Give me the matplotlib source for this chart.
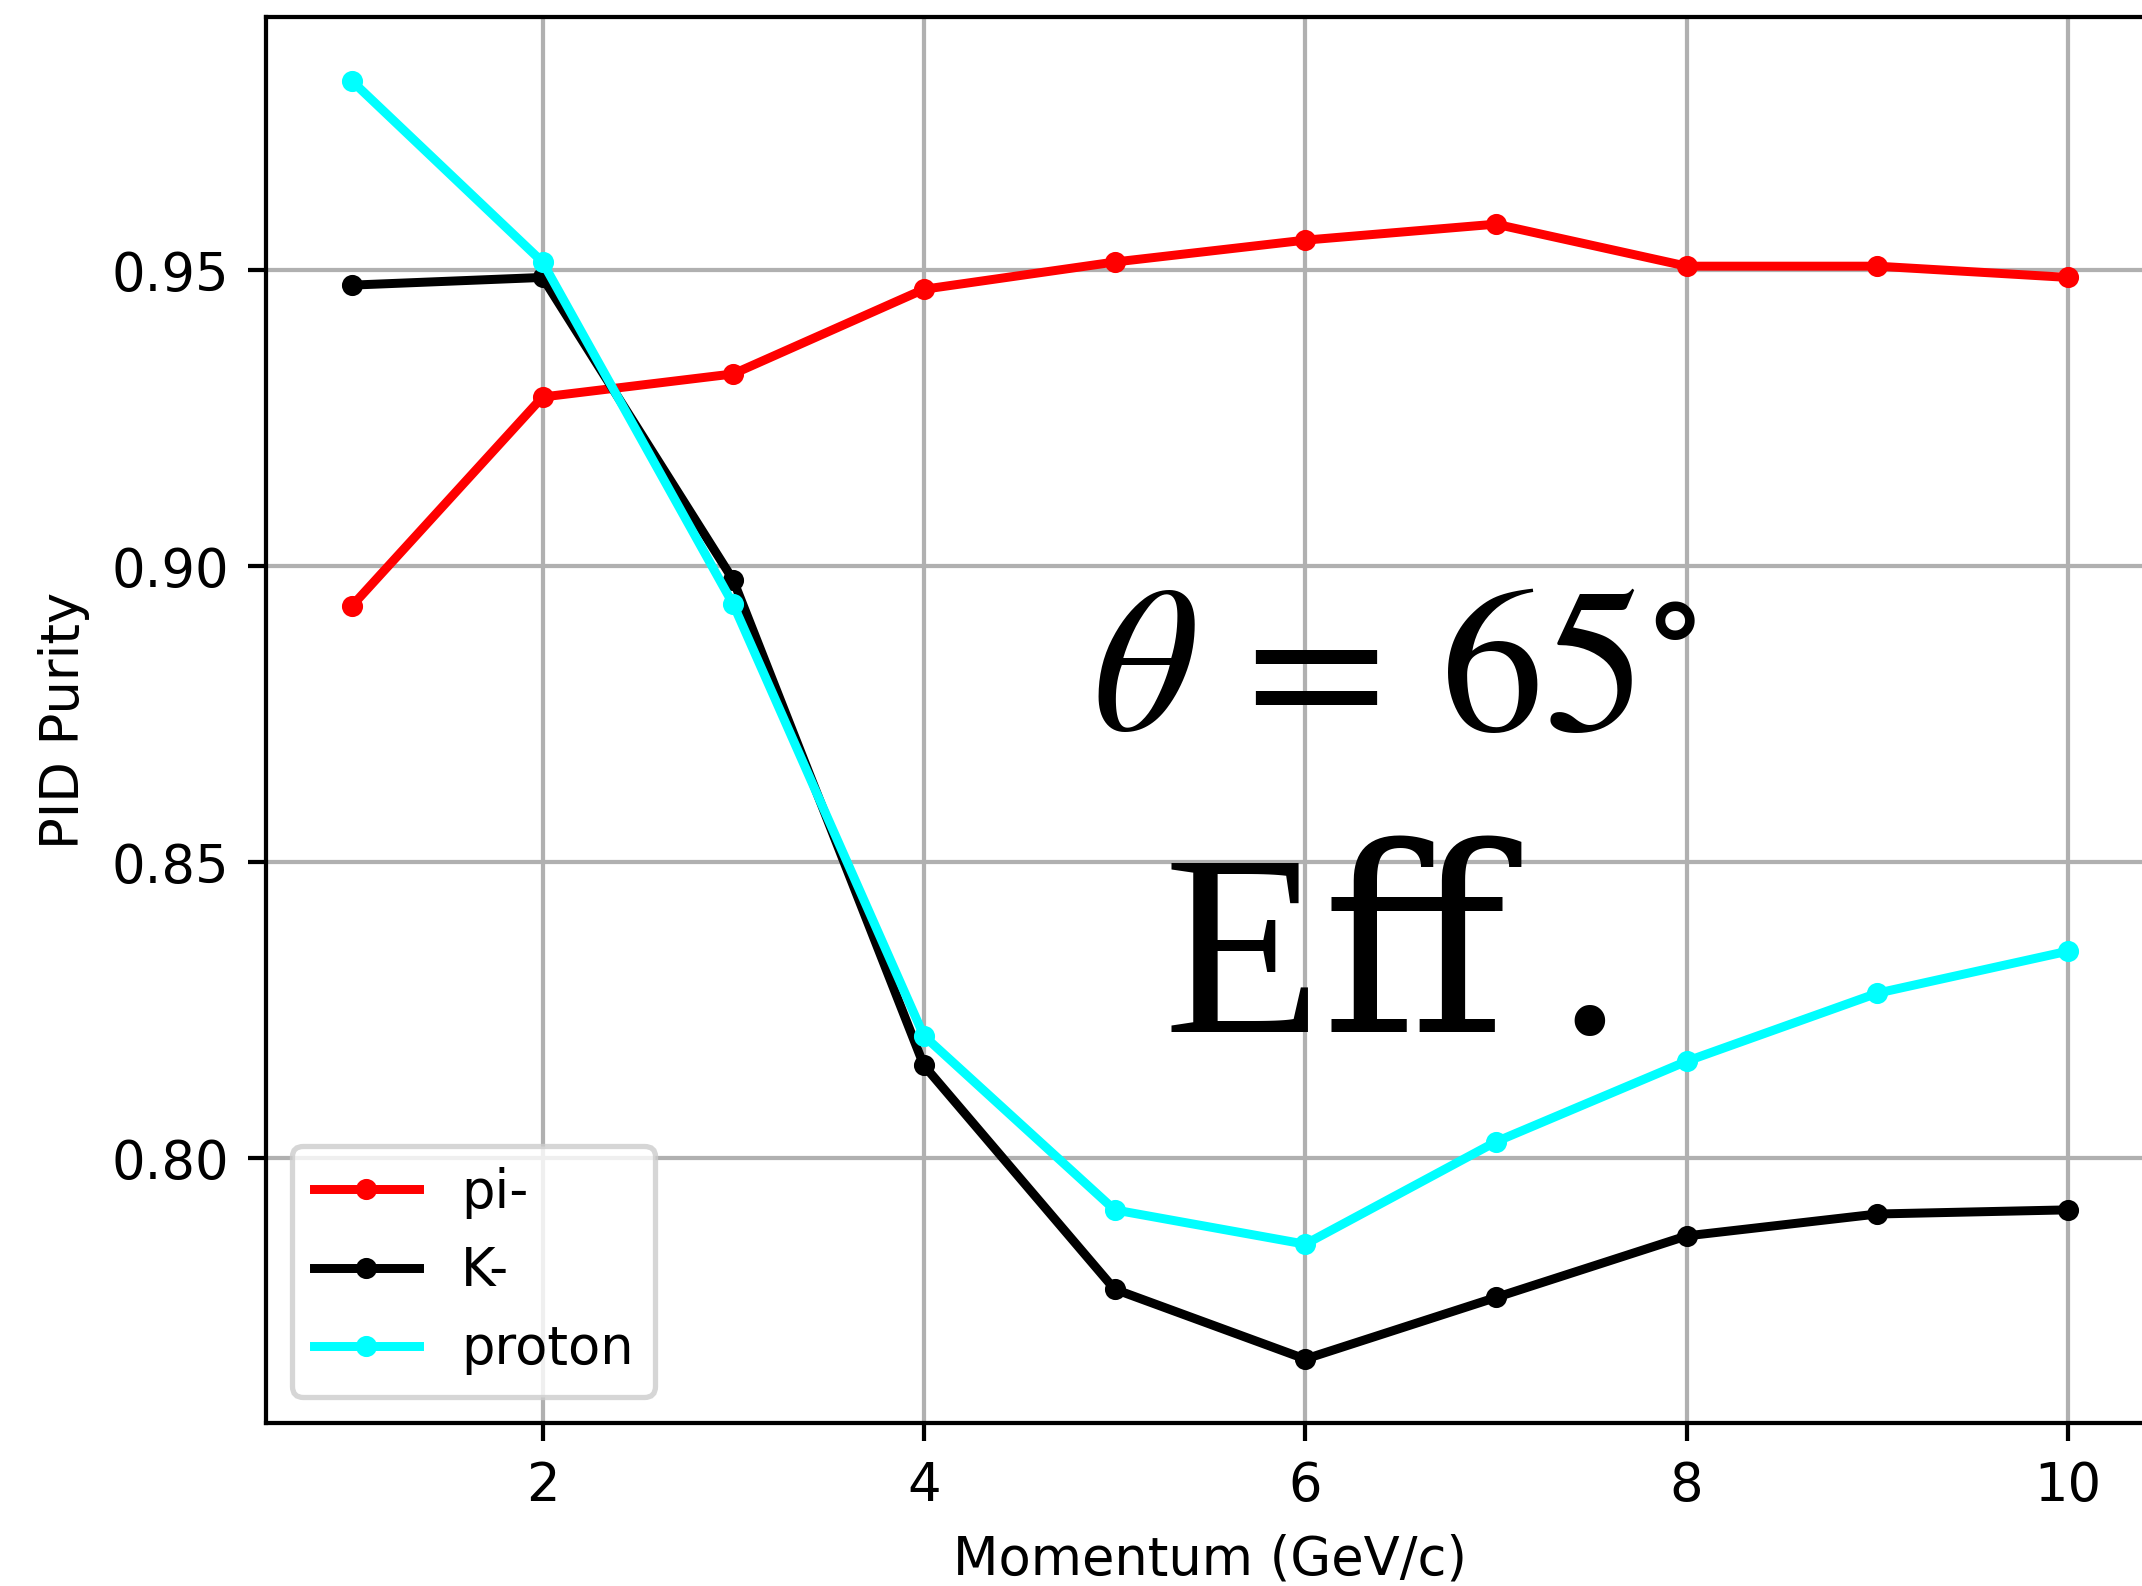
import matplotlib
matplotlib.use("Agg")
import matplotlib.pyplot as plt

# momentum bins (GeV/c)
momentum = [1, 2, 3, 4, 5, 6, 7, 8, 9, 10]

# PID purity per species
purity_pi = [0.8933, 0.9286, 0.9325, 0.9468, 0.9514, 0.9551, 0.9578, 0.9507, 0.9507, 0.9488]
purity_k = [0.9475, 0.9488, 0.8977, 0.8157, 0.7779, 0.7661, 0.7765, 0.7869, 0.7906, 0.7913]
purity_p = [0.9820, 0.9514, 0.8936, 0.8207, 0.7913, 0.7855, 0.8028, 0.8164, 0.8279, 0.8350]

plt.rcParams['mathtext.fontset'] = 'stix'

dpi = 380
fig = plt.figure(figsize=(2142 / dpi, 1586 / dpi), dpi=dpi)
ax = fig.add_axes([0.1242, 0.1028, 0.8813, 0.8865])

ax.plot(momentum, purity_pi, '.-', color='red', label='pi-', lw=1.7)
ax.plot(momentum, purity_k, '.-', color='black', label='K-', lw=1.7)
ax.plot(momentum, purity_p, '.-', color='cyan', label='proton', lw=1.7)

ax.set_xlabel('Momentum (GeV/c)')
ax.set_ylabel('PID Purity')
ax.set_yticks([0.80, 0.85, 0.90, 0.95])
ax.grid(True)
ax.legend(loc='lower left')

fig.text(1092 / 2142, 1 - 730 / 1586, r'$\theta\,=\,65^{\circ}$',
         fontsize=39, ha='left', va='baseline')
fig.text(1164 / 2142, 1 - 1032 / 1586, 'Eﬀ\u2009.',
         family=['Liberation Serif', 'DejaVu Serif'],
         fontsize=49, ha='left', va='baseline')

fig.savefig('out.png', dpi=dpi)
